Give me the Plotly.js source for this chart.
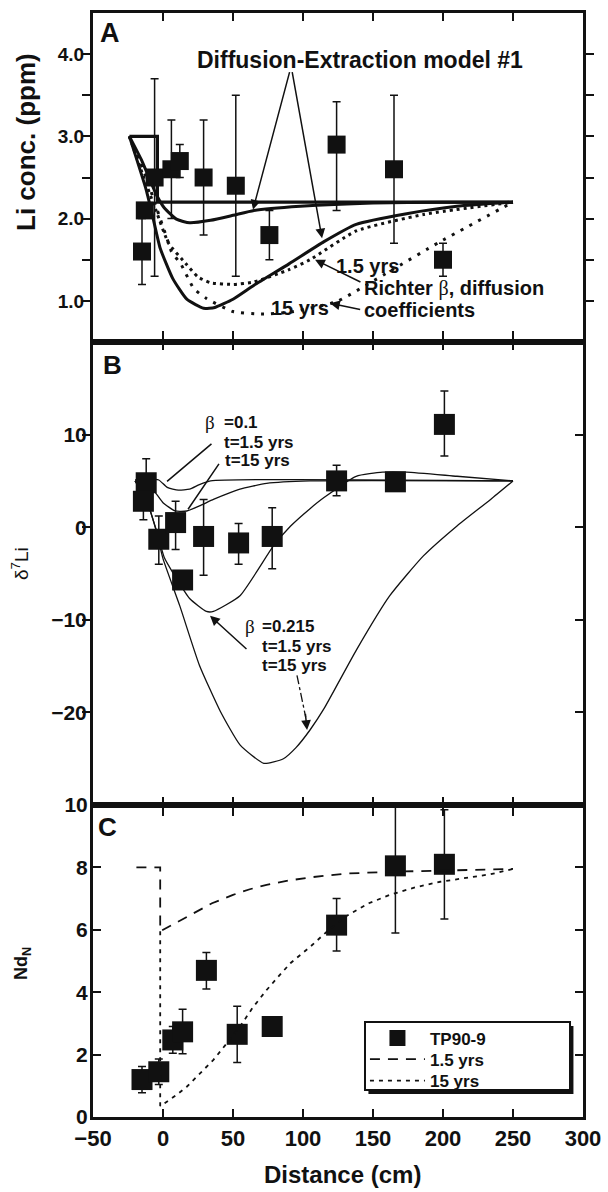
<!DOCTYPE html>
<html>
<head>
<meta charset="utf-8">
<script src="https://cdn.plot.ly/plotly-3.0.1.min.js"></script>
<style>html,body{margin:0;padding:0;background:#fff;}#chart{width:608px;height:1192px;}</style>
</head>
<body>
<div id="chart"></div>
<script>
// ---------- Panel A : Li concentration ----------
const liX = [-15, -13, -6, 6, 12, 29, 52, 76, 124, 165, 200];
const liY = [1.6, 2.1, 2.5, 2.6, 2.7, 2.5, 2.4, 1.8, 2.9, 2.6, 1.5];
const liErrPlus = [0.4, 0, 1.2, 0.6, 0.2, 0.7, 1.1, 0.3, 0.52, 0.9, 0.2];
const liErrMinus = [0.4, 0, 1.2, 0.6, 0.2, 0.7, 1.1, 0.3, 0.8, 0.9, 0.2];

const stepX = [-24, -4, -4, 250];
const stepY = [3.0, 3.0, 2.2, 2.2];
const model1X = [-24, -15, -5, 1, 10, 19, 34, 50, 65, 98, 150, 200, 250];
const model1Y = [3.0, 2.7, 2.3, 2.13, 1.99, 1.95, 1.98, 2.04, 2.1, 2.15, 2.19, 2.2, 2.2];
const model2X = [-24, -12, -7, -2, 7, 17, 29, 37, 50, 65, 90, 115, 138, 174, 210, 250];
const model2Y = [3.0, 2.35, 2.0, 1.64, 1.27, 1.02, 0.91, 0.92, 1.02, 1.19, 1.45, 1.72, 1.93, 2.06, 2.15, 2.2];
const richter15X = [-24, -15, -5, 4, 17, 25, 34, 50, 65, 90, 105, 138, 186, 250];
const richter15Y = [3.0, 2.56, 2.1, 1.7, 1.44, 1.29, 1.22, 1.2, 1.23, 1.38, 1.5, 1.85, 2.05, 2.2];
const richter150X = [-24, -12, -4, 3, 6, 13, 22, 31, 50, 70, 90, 110, 124, 162, 198, 250];
const richter150Y = [3.0, 2.5, 2.1, 1.75, 1.6, 1.44, 1.15, 1.03, 0.87, 0.84, 0.86, 0.93, 0.99, 1.36, 1.72, 2.2];

// ---------- Panel B : delta7Li ----------
const dX = [-12, -14, -3, 9, 14, 29, 54, 78, 124, 166, 201];
const dY = [4.8, 2.8, -1.3, 0.5, -5.7, -1.0, -1.7, -1.0, 5.0, 4.9, 11.1];
const dErrPlus = [2.6, 2.0, 2.5, 2.3, 0, 4.0, 2.1, 3.1, 1.7, 0, 3.6];
const dErrMinus = [2.6, 2.0, 2.7, 2.9, 0, 4.2, 2.3, 3.5, 1.6, 0, 3.4];

const b01aX = [-20, -10, -3, 3, 11, 19, 26, 34, 250];
const b01aY = [5.1, 5.2, 5.1, 4.3, 4.0, 4.1, 4.6, 5.0, 5.0];
const b01bX = [-20, -12, -4.5, 0, 8.6, 17, 26, 36, 48, 55, 74, 105, 250];
const b01bY = [5.0, 4.8, 3.55, 2.65, 1.75, 1.75, 2.3, 3.0, 3.73, 4.1, 4.73, 5.0, 5.0];
const b0215aX = [-20, -12, -5, 1, 7, 19, 31, 36, 55, 79, 91, 105, 115, 138, 157, 174, 210, 250];
const b0215aY = [5.0, 3.0, -0.2, -3.3, -4.9, -7.7, -9.1, -9.1, -7.4, -2.0, 0.1, 2.0, 3.2, 5.5, 5.95, 5.95, 5.5, 5.0];
const b0215bX = [-20, -12, -5, 0, 12, 26, 41, 55, 72, 86, 95, 105, 115, 138, 162, 186, 210, 234, 250];
const b0215bY = [5.0, 3.0, -0.3, -3.4, -8.5, -14.9, -19.9, -23.5, -25.5, -25.0, -23.8, -21.9, -19.6, -13.3, -7.4, -3.1, 0.14, 3.0, 5.0];

// ---------- Panel C : Nd_N ----------
const ndX = [-15, -3, 7, 14, 31, 53, 78, 124, 166, 201];
const ndY = [1.2, 1.45, 2.47, 2.73, 4.7, 2.65, 2.9, 6.15, 8.05, 8.1];
const ndErrPlus = [0.42, 0.41, 0.43, 0.72, 0.57, 0.9, 0, 0.85, 2.15, 1.75];
const ndErrMinus = [0.42, 0.41, 0.43, 0.7, 0.6, 0.9, 0, 0.83, 2.15, 1.75];
const nd15X = [-19, -2, -2, 2, 10, 17, 26, 35, 50, 62, 74, 90, 105, 130, 162, 210, 250];
const nd15Y = [8.0, 8.0, 5.95, 6.05, 6.25, 6.42, 6.65, 6.85, 7.12, 7.3, 7.44, 7.58, 7.68, 7.8, 7.86, 7.92, 7.95];
const nd150X = [-2, -2, 3, 10, 17, 26, 36, 45, 55, 64, 74, 83, 91, 105, 118, 132, 147, 162, 180, 198, 216, 234, 250];
const nd150Y = [5.95, 0.35, 0.5, 0.72, 0.97, 1.37, 1.83, 2.33, 2.9, 3.5, 4.07, 4.53, 4.93, 5.45, 5.98, 6.47, 6.85, 7.12, 7.36, 7.54, 7.67, 7.78, 7.95];

const seriesNames = ['TP90-9', '1.5 yrs', '15 yrs'];
const xTicks = [-50, 0, 50, 100, 150, 200, 250, 300];
const liTickVals = [1.0, 1.5, 2.0, 2.5, 3.0, 3.5, 4.0];
const liTickText = ['1.0', '', '2.0', '', '3.0', '', '4.0'];
const dTickVals = [-20, -10, 0, 10];
const ndTickVals = [0, 2, 4, 6, 8, 10];

const FONT = 'Liberation Sans, Arial, sans-serif';
const K = '#111';

function line(x, y, xa, ya, w, dash, shape) {
  return {x: x, y: y, xaxis: xa, yaxis: ya, mode: 'lines', showlegend: false, hoverinfo: 'skip',
    line: {color: K, width: w, dash: dash || 'solid', shape: shape || 'spline', smoothing: 0.5}};
}
function pts(x, y, ep, em, xa, ya, size, name, showlegend) {
  return {x: x, y: y, xaxis: xa, yaxis: ya, mode: 'markers', name: name || '', showlegend: !!showlegend,
    marker: {symbol: 'square', size: size, color: K},
    error_y: {type: 'data', symmetric: false, array: ep, arrayminus: em, color: K, thickness: 1.5, width: 4}};
}

const data = [
  // Panel A (x3, y3)
  line(stepX, stepY, 'x3', 'y3', 3.2, 'solid', 'linear'),
  line(model1X, model1Y, 'x3', 'y3', 3),
  line(model2X, model2Y, 'x3', 'y3', 3),
  line(richter15X, richter15Y, 'x3', 'y3', 3, '3px,4px'),
  line(richter150X, richter150Y, 'x3', 'y3', 3, '3px,7px'),
  pts(liX, liY, liErrPlus, liErrMinus, 'x3', 'y3', 18),
  // Panel B (x2, y2)
  line(b01aX, b01aY, 'x2', 'y2', 1.3),
  line(b01bX, b01bY, 'x2', 'y2', 1.3),
  line(b0215aX, b0215aY, 'x2', 'y2', 1.3),
  line(b0215bX, b0215bY, 'x2', 'y2', 1.3),
  pts(dX, dY, dErrPlus, dErrMinus, 'x2', 'y2', 21),
  {x: [null], y: [null], xaxis: 'x2', yaxis: 'y4', mode: 'lines', showlegend: false},
  // Panel C (x, y)
  Object.assign(pts(ndX, ndY, ndErrPlus, ndErrMinus, 'x', 'y', 21, seriesNames[0], true), {legend: 'legend'}),
  Object.assign(line(nd15X, nd15Y, 'x', 'y', 1.8, '10px,8px', 'linear'), {name: seriesNames[1], showlegend: true, legend: 'legend2'}),
  Object.assign(line(nd150X, nd150Y, 'x', 'y', 1.8, '4px,5px', 'linear'), {name: seriesNames[2], showlegend: true, legend: 'legend3'})
];

const baseAx = {showline: true, linecolor: K, linewidth: 3, ticklen: 8, tickwidth: 2, tickcolor: K,
  showgrid: false, zeroline: false, fixedrange: true};
function xa(anchor, labels) {
  return Object.assign({}, baseAx, {anchor: anchor, range: [-50, 300], tickvals: xTicks, ticks: 'inside',
    mirror: 'allticks', showticklabels: labels,
    tickfont: {family: FONT, size: 22, color: K, weight: 'bold'}});
}

const A = (t, x, y, xref, yref, opts) => Object.assign({text: t, x: x, y: y, xref: xref, yref: yref, showarrow: false,
  xanchor: 'center', yanchor: 'middle',
  font: {family: FONT, size: 20, color: K, weight: 'bold'}}, opts || {});
const ARR = (x, y, ax, ay, xr, yr, head) => ({text: '', x: x, y: y, ax: ax, ay: ay, xref: xr, yref: yr, axref: xr, ayref: yr,
  showarrow: true, arrowhead: head === undefined ? 2 : head, arrowsize: 1.3, arrowwidth: 1.5, arrowcolor: K, standoff: 0, startstandoff: 0});
const beta = '<span style="font-family:\'Liberation Serif\',serif;font-weight:normal">β</span>';

const annotations = [
  // panel letters
  A('A', 0.0347, 0.982, 'paper', 'paper', {font: {family: FONT, size: 27, color: K, weight: 'bold'}}),
  A('B', 0.0388, 0.681, 'paper', 'paper', {font: {family: FONT, size: 26, color: K, weight: 'bold'}}),
  A('C', 0.0286, 0.2627, 'paper', 'paper', {font: {family: FONT, size: 26, color: K, weight: 'bold'}}),
  // axis titles
  A('Li conc. (ppm)', -0.1367, 0.8832, 'paper', 'paper', {textangle: -90, font: {family: FONT, size: 26, color: K, weight: 'bold'}}),
  A('δ<sup>7</sup>Li', -0.149, 0.5018, 'paper', 'paper', {textangle: -90, font: {family: FONT, size: 19, color: K, weight: 'normal'}}),
  A('Nd<sub>N</sub>', -0.1429, 0.1395, 'paper', 'paper', {textangle: -90, font: {family: FONT, size: 18, color: K, weight: 'bold'}}),
  A('Distance (cm)', 0.5102, -0.0525, 'paper', 'paper', {font: {family: FONT, size: 24, color: K, weight: 'bold'}}),
  // Panel A texts
  A('Diffusion-Extraction model #1', 141, 3.93, 'x3', 'y3', {font: {family: FONT, size: 23, color: K, weight: 'bold'}}),
  A('1.5 yrs', 146.4, 1.42, 'x3', 'y3'),
  A('Richter ' + beta + ', diffusion', 142.1, 1.15, 'x3', 'y3', {xanchor: 'left'}),
  A('coefficients', 142.4, 0.89, 'x3', 'y3', {xanchor: 'left'}),
  A('15 yrs', 97.9, 0.91, 'x3', 'y3'),
  ARR(64.3, 2.11, 90.7, 3.8, 'x3', 'y3'),
  ARR(113.6, 1.76, 92.1, 3.8, 'x3', 'y3'),
  ARR(108.6, 1.5, 142.1, 1.22, 'x3', 'y3'),
  ARR(119.3, 0.97, 141.9, 0.89, 'x3', 'y3'),
  // Panel B texts
  A(beta, 28.6, 11.3, 'x2', 'y2', {xanchor: 'left', font: {family: 'Liberation Serif, serif', size: 19, color: K}}),
  A('=0.1', 42.1, 11.3, 'x2', 'y2', {xanchor: 'left', font: {family: FONT, size: 17, color: K, weight: 'bold'}}),
  A('t=1.5 yrs', 42.1, 9.15, 'x2', 'y2', {xanchor: 'left', font: {family: FONT, size: 17, color: K, weight: 'bold'}}),
  A('t=15 yrs', 42.6, 7.2, 'x2', 'y2', {xanchor: 'left', font: {family: FONT, size: 17, color: K, weight: 'bold'}}),
  ARR(2.9, 4.95, 35.7, 9.14, 'x2', 'y2', 0),
  ARR(17.9, 1.94, 40.7, 7.0, 'x2', 'y2', 0),
  A(beta, 57.1, -10.75, 'x2', 'y2', {xanchor: 'left', font: {family: 'Liberation Serif, serif', size: 19, color: K}}),
  A('=0.215', 69.3, -10.75, 'x2', 'y2', {xanchor: 'left', font: {family: FONT, size: 17, color: K, weight: 'bold'}}),
  A('t=1.5 yrs', 69.3, -12.9, 'x2', 'y2', {xanchor: 'left', font: {family: FONT, size: 17, color: K, weight: 'bold'}}),
  A('t=15 yrs', 69.3, -14.95, 'x2', 'y2', {xanchor: 'left', font: {family: FONT, size: 17, color: K, weight: 'bold'}}),
  ARR(33.6, -9.57, 60.7, -13.3, 'x2', 'y2'),
  ARR(102.9, -21.9, 101.6, -20.0, 'x2', 'y2')
];

// legend frame (box + drop shadow), in paper units
const lgX0 = 0.5551, lgX1 = 0.9735, lgY0 = 0.0245, lgY1 = 0.08605;
const shapes = [
  {type: 'line', xref: 'x2', yref: 'y2', x0: 95.7, y0: -16.0, x1: 101.9, y1: -20.5,
   line: {color: K, width: 1.3, dash: 'dashdot'}},
  {type: 'rect', xref: 'paper', yref: 'paper', x0: lgX0 + 0.007, x1: lgX1 + 0.007, y0: lgY0 - 0.0036, y1: lgY1 - 0.0036,
   fillcolor: K, line: {width: 0}, layer: 'above'},
  {type: 'rect', xref: 'paper', yref: 'paper', x0: lgX0, x1: lgX1, y0: lgY0, y1: lgY1,
   fillcolor: '#fff', line: {color: K, width: 2}, layer: 'above'}
];

const legBase = y => ({x: 0.555, y: y, xanchor: 'left', yanchor: 'top', bgcolor: 'rgba(0,0,0,0)', borderwidth: 0,
  font: {family: FONT, size: 17, color: K, weight: 'bold'}, itemwidth: 55});

const layout = {
  width: 608, height: 1192,
  margin: {l: 93, r: 25, t: 13, b: 75},
  paper_bgcolor: '#fff', plot_bgcolor: '#fff',
  font: {family: FONT, color: K},
  xaxis: xa('y', true),
  xaxis2: xa('y2', false),
  xaxis3: xa('y3', false),
  yaxis: Object.assign({}, baseAx, {domain: [0, 0.2826], range: [0, 10], tickvals: ndTickVals, ticks: 'inside',
    mirror: 'allticks', anchor: 'x', ticklabelstandoff: -2, tickfont: {family: FONT, size: 21, color: K, weight: 'bold'}}),
  yaxis2: Object.assign({}, baseAx, {domain: [0.2826, 0.702], range: [-30, 20], tickvals: dTickVals, ticks: 'outside',
    mirror: false, anchor: 'x2', ticklabelstandoff: -9, tickfont: {family: FONT, size: 21, color: K, weight: 'bold'}}),
  yaxis4: Object.assign({}, baseAx, {overlaying: 'y2', side: 'right', range: [-30, 20], tickvals: dTickVals,
    ticks: 'inside', anchor: 'x2', showticklabels: false}),
  yaxis3: Object.assign({}, baseAx, {domain: [0.702, 1], range: [0.5, 4.5], tickvals: liTickVals, ticktext: liTickText,
    ticks: 'outside', mirror: 'allticks', anchor: 'x3', ticklabelstandoff: -6, tickfont: {family: FONT, size: 19, color: K, weight: 'bold'}}),
  showlegend: true,
  legend: legBase(0.0875),
  legend2: legBase(0.0684),
  legend3: legBase(0.0488),
  annotations: annotations,
  shapes: shapes
};

Plotly.newPlot('chart', data, layout, {displayModeBar: false, staticPlot: true});
</script>
</body>
</html>
